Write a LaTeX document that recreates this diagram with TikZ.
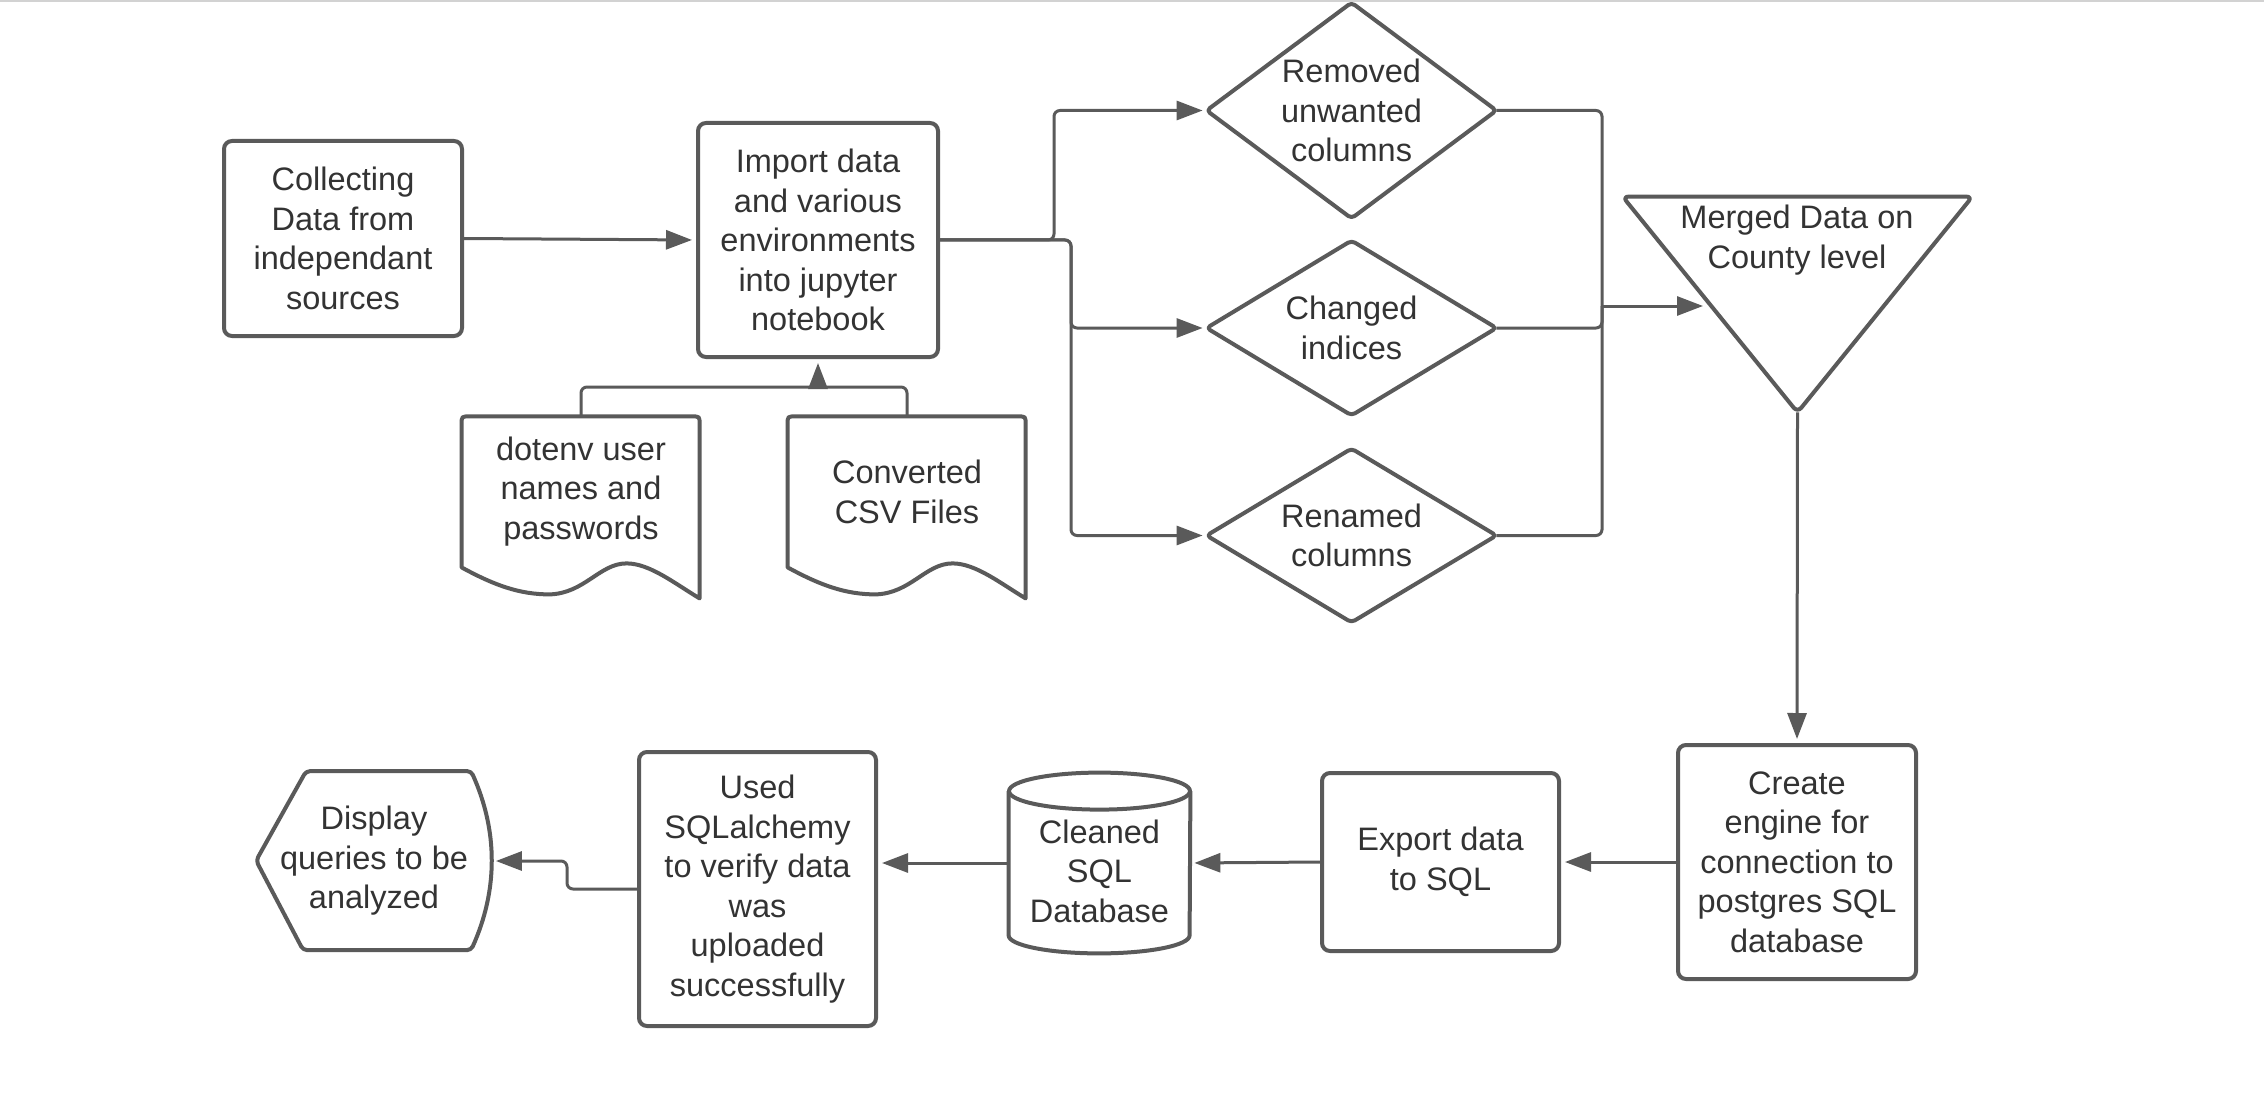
\documentclass[tikz,border=0pt]{standalone}
\usepackage{fontspec}
\setmainfont{Liberation Sans}
\usetikzlibrary{arrows.meta,calc}
\definecolor{ln}{HTML}{5A5A5A}
\definecolor{tx}{HTML}{333333}
\newcommand\docshape[1]{\draw[outline,shift={(#1.south west)}] (0,0) -- (0,-143) .. controls (0,-151) .. (8,-151) -- (230,-151) .. controls (238,-151) .. (238,-143) -- (238,31) .. controls (213,16) and (188,-4) .. (165,-4) .. controls (138,-4) and (123,26) .. (88,27) .. controls (58,27) and (33,18) .. (0,0) -- cycle;}
\begin{document}
\begin{tikzpicture}[x=0.5pt,y=-0.5pt,
  every node/.style={font=\fontsize{16.25pt}{19.75pt}\selectfont, text=tx, align=center, inner sep=0pt},
  box/.style={draw=ln, line width=2pt, rounded corners=4pt, fill=white},
  outline/.style={draw=ln, line width=2pt, line join=round},
  link/.style={draw=ln, line width=1.5pt, rounded corners=3pt},
  conn/.style={link, shorten >=2pt, -{Triangle[length=13pt,width=9.5pt]}},
]
\fill[white] (0,0) rectangle (2264,1107);
\useasboundingbox (0,0) rectangle (2264,1107);
\fill[gray!35] (0,0) rectangle (2264,2.5);

% top row
\node[box, minimum width=119pt, minimum height=97.5pt] (col) at (343,238.5) {Collecting\\Data from\\independant\\sources};
\node[box, minimum width=120pt, minimum height=117pt] (imp) at (818,240) {Import data\\and various\\environments\\into jupyter\\notebook};

% documents
\node[minimum width=119pt, minimum height=75.5pt] (dot) at (581,491.5) {dotenv user\\names and\\passwords};
\node[minimum width=119pt, minimum height=75pt] (conv) at (907,492) {Converted\\CSV Files};
\docshape{dot}
\docshape{conv}

% diamonds
\node[minimum width=144.5pt, minimum height=107.5pt] (d1) at (1351.5,110.5) {Removed\\unwanted\\columns};
\node[minimum width=144.5pt, minimum height=87pt] (d2) at (1351.5,328) {Changed\\indices};
\node[minimum width=144.5pt, minimum height=86.5pt] (d3) at (1351.5,535.5) {Renamed\\columns};
\foreach \d in {d1,d2,d3}
  \draw[outline, rounded corners=2pt] (\d.north) -- (\d.east) -- (\d.south) -- (\d.west) -- cycle;

% merged triangle
\node[minimum width=174.5pt, minimum height=107.5pt] (m) at (1797.5,304.5) {};
\node (mt) at (1797,240) {Merged Data on\\County level};
\draw[outline, rounded corners=3pt] (m.north west) -- (m.north east) -- (m.south) -- cycle;

% bottom row
\node[box, minimum width=119pt, minimum height=117pt] (cre) at (1797,862) {Create\\engine for\\connection to\\postgres SQL\\database};
\node[box, minimum width=118.5pt, minimum height=89pt] (exp) at (1440.5,862) {Export data\\to SQL};
\node[minimum width=90.5pt, minimum height=90pt] (cyl) at (1099.5,863) {};
\node (cylt) at (1099.5,871) {Cleaned\\SQL\\Database};
\draw[outline] ($(cyl.north)+(0,18.5)$) ellipse [x radius=45.25pt, y radius=9.25pt];
\draw[outline] ($(cyl.north west)+(0,18.5)$) -- ($(cyl.south west)+(0,-18)$) arc[start angle=180, end angle=360, x radius=45.25pt, y radius=9pt] -- ($(cyl.north east)+(0,18.5)$);
\node[box, minimum width=118.5pt, minimum height=137pt] (used) at (757.5,889) {Used\\SQLalchemy\\to verify data\\was\\uploaded\\successfully};
\node[minimum width=117.5pt, minimum height=89.5pt] (disp) at (374,861) {Display\\queries to be\\analyzed};
\draw[outline, rounded corners=2pt, shift={(disp.north west)}] (50,0) -- (215,0) .. controls (242,60) and (242,119) .. (215,179) -- (47,179) -- (0,89.5) -- cycle;

% connectors
\coordinate (bj) at (818,387);
\coordinate (mj) at (1602,306);
\coordinate (mleft) at (1707,306);
\draw[conn] (col.east) -- (imp.west);
\draw[link] (dot.north) |- (bj);
\draw[link] (conv.north) |- (bj);
\draw[conn] (bj) -- (imp.south);
\draw[conn] (imp.east) -- (1054,240) |- (d1.west);
\draw[conn] (imp.east) -- (1071,240) |- (d2.west);
\draw[conn] (imp.east) -- (1071,240) |- (d3.west);
\draw[link] (d1.east) -| (mj);
\draw[link] (d2.east) -| (mj);
\draw[link] (d3.east) -| (mj);
\draw[conn] (mj) -- (mleft);
\draw[conn] (m.south) -- (cre.north);
\draw[conn] (cre.west) -- (exp.east);
\draw[conn] (exp.west) -- (cyl.east);
\draw[conn] (cyl.west) -- (cyl.west -| used.east);
\draw[conn] (used.west) -- (567,889) |- (disp.east);
\end{tikzpicture}
\end{document}
